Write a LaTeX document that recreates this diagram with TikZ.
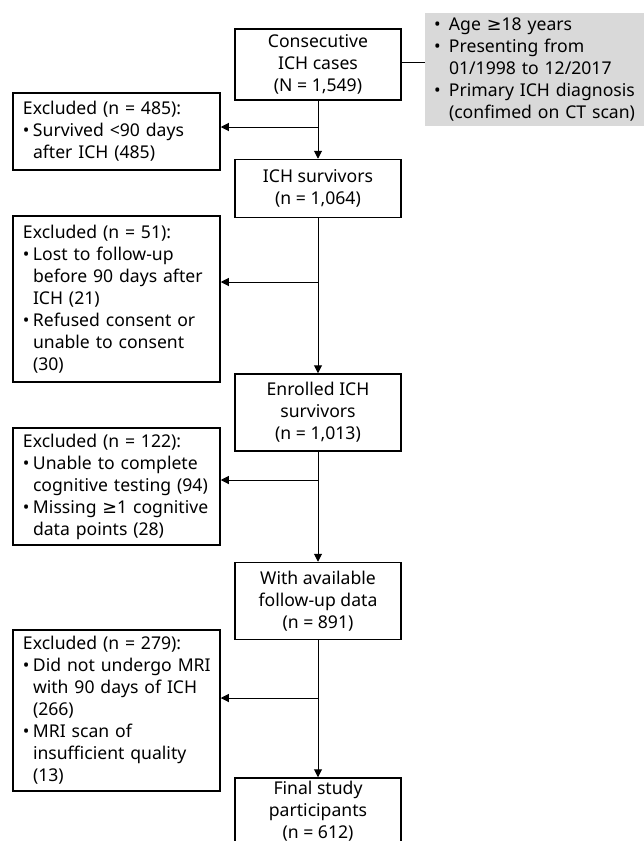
\documentclass[tikz,border=0pt]{standalone}
\usepackage{fontspec}
\setmainfont{Noto Sans}
\newfontfamily\symfont{DejaVu Sans}
\usepackage{tikz}
\usetikzlibrary{arrows.meta, positioning}
\definecolor{critgray}{RGB}{217,217,217}
\newcommand{\bul}{\makebox[10pt][l]{•}}
\newcommand{\ind}{\hspace*{10pt}}
\newcommand{\gbul}{\makebox[15pt][l]{•}}
\newcommand{\gind}{\hspace*{15pt}}
\newcommand{\gesym}{{\symfont ≥}}
\tikzstyle{mainbox} = [rectangle, draw=black, line width=1.5pt, fill=white, minimum width=166pt,
                       inner ysep=1pt, align=center, font=\fontsize{17.6}{22}\selectfont]
\tikzstyle{exbox} = [rectangle, draw=black, line width=1.5pt, fill=white, text width=187pt,
                     inner xsep=10pt, inner ysep=1pt, align=left, font=\fontsize{17.6}{22}\selectfont]
\tikzstyle{critbox} = [rectangle, fill=critgray, text width=207pt, minimum height=113pt,
                       inner xsep=9pt, inner ysep=1pt, align=left, font=\fontsize{17.6}{22}\selectfont]
\tikzstyle{arrow} = [line width=1pt, -{Triangle[length=8pt,width=8pt]}, black]
\begin{document}
\begin{tikzpicture}[x=1pt, y=-1pt]
    \useasboundingbox (0,0) rectangle (644,841);
    % Main column
    \node[mainbox, minimum height=71pt] (cases) at (318,64.5) {Consecutive\\ICH cases\\(N = 1,549)};
    \node[mainbox, minimum height=58pt, below=58pt of cases] (surv) {ICH survivors\\(n = 1,064)};
    \node[mainbox, minimum height=77pt, below=155pt of surv] (enrol) {Enrolled ICH\\survivors\\(n = 1,013)};
    \node[mainbox, minimum height=77pt, below=110pt of enrol] (avail) {With available\\follow-up data\\(n = 891)};
    \node[mainbox, minimum height=77pt, below=137pt of avail] (final) {Final study\\participants\\(n = 612)\rule[-14pt]{0pt}{1pt}};

    % Inclusion criteria
    \node[critbox] (crit) at (537.5,69.5) {\gbul Age \gesym18 years\\\gbul Presenting from\\\gind 01/1998 to 12/2017\\\gbul Primary ICH diagnosis\\\gind (confimed on CT scan)};

    % Exclusions
    \node[exbox, minimum height=77pt] (ex1) at (116.5,131.5) {Excluded (n = 485):\\\bul Survived <90 days\\\ind after ICH (485)};
    \node[exbox, minimum height=166pt] (ex2) at (116.5,299) {Excluded (n = 51):\\\bul Lost to follow-up\\\ind before 90 days after\\\ind ICH (21)\\\bul Refused consent or\\\ind unable to consent\\\ind (30)};
    \node[exbox, minimum height=117pt] (ex3) at (116.5,486.5) {Excluded (n = 122):\\\bul Unable to complete\\\ind cognitive testing (94)\\\bul Missing \gesym1 cognitive\\\ind data points (28)};
    \node[exbox, minimum height=161pt] (ex4) at (116.5,710.5) {Excluded (n = 279):\\\bul \mbox{Did not undergo MRI}\\\ind with 90 days of ICH\\\ind (266)\\\bul MRI scan of\\\ind insufficient quality\\\ind (13)};

    % Branch points
    \coordinate (b1) at (318,127);
    \coordinate (b2) at (318,282);
    \coordinate (b3) at (318,480);
    \coordinate (b4) at (318,698);

    % Arrows down
    \draw[arrow] (cases) -- (surv);
    \draw[arrow] (surv) -- (enrol);
    \draw[arrow] (enrol) -- (avail);
    \draw[arrow] (avail) -- (final);

    % Arrows to exclusions
    \draw[arrow] (b1) -- (b1 -| ex1.east);
    \draw[arrow] (b2) -- (b2 -| ex2.east);
    \draw[arrow] (b3) -- (b3 -| ex3.east);
    \draw[arrow] (b4) -- (b4 -| ex4.east);

    % Criteria link
    \draw[line width=1pt] ([yshift=2.5pt]cases.east) -- ([yshift=2.5pt]cases.east -| crit.west);
\end{tikzpicture}
\end{document}
